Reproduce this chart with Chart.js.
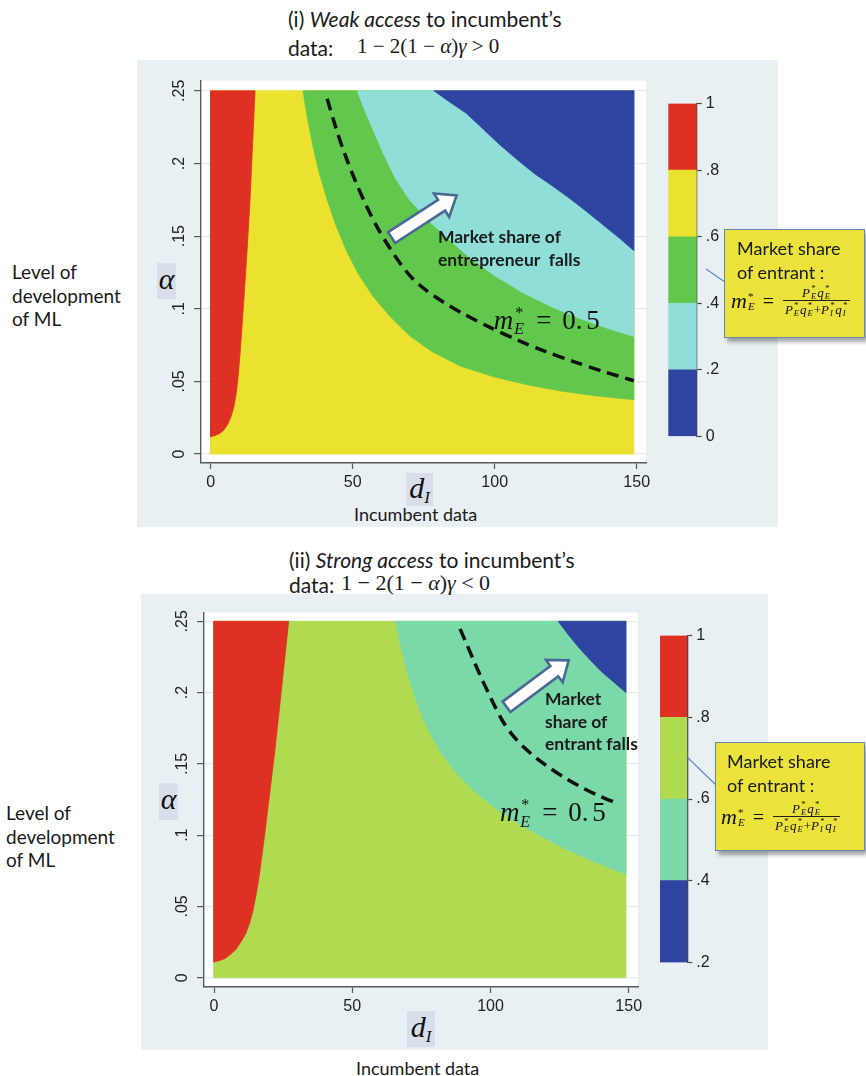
<!DOCTYPE html>
<html>
<head>
<meta charset="utf-8">
<script src="https://cdn.jsdelivr.net/npm/chart.js@4.4.1/dist/chart.umd.min.js"></script>
<style>
  html, body { margin: 0; padding: 0; background: #fff; }
  #page { position: relative; width: 866px; height: 1076px; overflow: hidden;
          font-family: Lato, "Open Sans", sans-serif; color: #1a1a1a; }
  .panel { position: absolute; background: #e9f0f3; }
  .txt { position: absolute; white-space: nowrap; line-height: 1; }
  .ttl { font-size: 21px; }
  .serif { font-family: "Liberation Serif", "DejaVu Serif", serif; }
  .side { position: absolute; font-size: 19px; line-height: 23.5px; }
  .axbox { position: absolute; background: #d8dfea; font-family: "Liberation Serif", serif;
           font-style: italic; color: #111; text-align: center; }
  .callout { position: absolute; background: #ebe23b; border: 1.5px solid #6a86ab;
             box-shadow: 3px 4px 4px rgba(0,0,0,.35); box-sizing: border-box; }
  .callout .lbl { position: absolute; font-size: 18px; line-height: 23.5px; white-space: nowrap; }
  .frm { position: absolute; font-family: "Liberation Serif", serif; white-space: nowrap;
         display: flex; align-items: center; color: #111; }
  .frm .m { font-style: italic; font-size: 22px; }
  .ss { display: inline-flex; flex-direction: column; font-size: 11px; line-height: 0.95;
        vertical-align: middle; margin-left: 1px; }
  .ss i { font-style: italic; }
  .frm .eq { font-size: 20px; margin: 0 9px 0 8px; }
  .frac { display: inline-flex; flex-direction: column; align-items: center; font-size: 13px; }
  .frac span.row { display: inline-flex; align-items: center; font-style: italic; line-height: 1; }
  .frac .den { border-top: 1px solid #222; padding: 1px 2px 0 2px; }
  .frac .sss { display: inline-flex; flex-direction: column; font-size: 8.5px; line-height: 0.9; margin: 0 1px; font-style: italic; }
  canvas { position: absolute; }
  svg { position: absolute; left: 0; top: 0; }
</style>
</head>
<body>
<div id="page">
  <!-- top panel -->
  <div class="panel" style="left:137px;top:60px;width:641px;height:467px"></div>
  <div class="txt ttl" style="left:288px;top:8px">(i) <i>Weak access</i> to incumbent’s</div>
  <div class="txt ttl" style="left:288px;top:37px">data:</div>
  <div class="txt serif" style="left:357px;top:36px;font-size:21px">1 − 2(1 − <i>α</i>)<i>γ</i> &gt; 0</div>
  <div class="side" style="left:12px;top:260px">Level of<br>development<br>of ML</div>
  <div class="axbox" style="left:157px;top:263px;width:19px;height:36px;font-size:30px;line-height:32px">α</div>
  <div class="axbox" style="left:406px;top:473px;width:27px;height:33px;font-size:30px;line-height:30px">d<span style="font-size:17px;vertical-align:-5px">I</span></div>
  <div class="txt" style="left:354px;top:505px;font-size:18px">Incumbent data</div>
  <canvas id="topMain" width="510" height="432" style="left:150px;top:68px"></canvas>
  <canvas id="topBar" width="80" height="360" style="left:660px;top:90px"></canvas>

  <!-- bottom panel -->
  <div class="panel" style="left:141px;top:594px;width:627px;height:456px"></div>
  <div class="txt ttl" style="left:289px;top:549px">(ii) <i>Strong access</i> to incumbent’s</div>
  <div class="txt ttl" style="left:289px;top:574px">data:</div>
  <div class="txt serif" style="left:341px;top:572px;font-size:22px">1 − 2(1 − <i>α</i>)<i>γ</i> &lt; 0</div>
  <div class="side" style="left:6px;top:801px">Level of<br>development<br>of ML</div>
  <div class="axbox" style="left:159px;top:783px;width:19px;height:37px;font-size:30px;line-height:32px">α</div>
  <div class="axbox" style="left:407px;top:1011px;width:28px;height:36px;font-size:30px;line-height:32px">d<span style="font-size:17px;vertical-align:-5px">I</span></div>
  <div class="txt" style="left:356px;top:1059px;font-size:18px">Incumbent data</div>
  <canvas id="botMain" width="500" height="420" style="left:150px;top:600px"></canvas>
  <canvas id="botBar" width="80" height="354" style="left:650px;top:622px"></canvas>

  <svg width="866" height="1076">
    <line x1="706" y1="269" x2="725" y2="282" stroke="#5b86c0" stroke-width="1.2"/>
    <line x1="687" y1="757" x2="716" y2="785" stroke="#5b86c0" stroke-width="1.2"/>
  </svg>
  <div id="callTop" class="callout" style="left:724px;top:229px;width:141px;height:109px"></div>
  <div id="callBot" class="callout" style="left:715px;top:742px;width:150px;height:109px"></div>
</div>

<script>
// ---- axes (shared by both panels)
const xTickVals = [0, 50, 100, 150];
const xTickLabels = ["0", "50", "100", "150"];
const yTickVals = [0, 0.05, 0.1, 0.15, 0.2, 0.25];
const yTickLabels = ["0", ".05", ".1", ".15", ".2", ".25"];
const dMax = 149;      // grid of d_I ends just short of 150
const aMax = 0.25;

// ---- panel (i): contour boundaries of m*_E
const topC80D = [0, 1.5, 3, 4.5, 6, 7.2, 8.2, 9, 9.7, 10.3, 11, 11.8, 12.8, 13.8, 14.7, 15.6];
const topC80A = [0.012, 0.0128, 0.014, 0.0163, 0.0205, 0.026, 0.033, 0.042, 0.054, 0.068, 0.087, 0.11, 0.14, 0.173, 0.211, 0.25];
const topC60D = [32.5, 34, 36, 38, 41, 44, 48, 52, 57, 63, 70, 78, 88, 100, 112, 124, 136, 149];
const topC60A = [0.25, 0.232, 0.212, 0.195, 0.175, 0.158, 0.139, 0.124, 0.109, 0.095, 0.0815, 0.0705, 0.0605, 0.053, 0.0475, 0.0432, 0.04, 0.0375];
const topC40D = [51.6, 54, 57, 61, 65, 70, 76, 83, 91, 100, 110, 120, 130, 140, 149];
const topC40A = [0.25, 0.2377, 0.224, 0.206, 0.19, 0.175, 0.162, 0.1494, 0.1355, 0.1227, 0.111, 0.1014, 0.0933, 0.0864, 0.081];
const topC20D = [78.6, 84, 90, 96, 102, 108, 114, 120, 126, 132, 138, 144, 149];
const topC20A = [0.25, 0.2425, 0.2345, 0.2235, 0.2125, 0.2025, 0.193, 0.185, 0.1765, 0.1675, 0.158, 0.1485, 0.14];
const topC50D = [41, 44, 47, 51, 55, 59, 63, 67, 71, 76, 82, 89, 98, 108, 118, 128, 138, 149];
const topC50A = [0.2445, 0.225, 0.2076, 0.1876, 0.17, 0.1548, 0.142, 0.1305, 0.121, 0.1125, 0.1045, 0.0965, 0.0875, 0.0785, 0.0705, 0.0635, 0.057, 0.0505];
const topArrowD = [63.7, 86.6];
const topArrowA = [0.149, 0.178];
const topNote = ["Market share of", "entrepreneur  falls"];
const topNoteD = 80;
const topNoteA = [0.149, 0.133];
const topMLabel = [99.7, 0.0925];
const topBands = [0, 0.2, 0.4, 0.6, 0.8, 1];
const topBandLabels = ["0", ".2", ".4", ".6", ".8", "1"];
const topBandColors = ["#2f44a0", "#8fdfd8", "#62c74d", "#ebe230", "#de3124"];

// ---- panel (ii)
const botC80D = [0, 2, 4, 6, 8, 10, 11.5, 13, 14.2, 15.3, 16.3, 17.3, 18.5, 20, 22, 24.5, 27];
const botC80A = [0.011, 0.012, 0.0135, 0.0165, 0.02, 0.026, 0.031, 0.039, 0.048, 0.059, 0.071, 0.085, 0.103, 0.127, 0.159, 0.204, 0.25];
const botC60D = [65.6, 67, 69, 71.5, 74.5, 78, 82, 87, 93, 100, 108, 117, 127, 138, 149];
const botC60A = [0.25, 0.237, 0.221, 0.204, 0.187, 0.172, 0.158, 0.145, 0.133, 0.1215, 0.1105, 0.1005, 0.0905, 0.081, 0.0725];
const botC40D = [124.5, 128, 132, 136, 140, 144.5, 149];
const botC40A = [0.25, 0.241, 0.2315, 0.223, 0.215, 0.2075, 0.2];
const botC50D = [89, 91.5, 94, 96.5, 99, 101.5, 104.5, 108, 112, 116.5, 121.5, 127, 133, 139, 146.5];
const botC50A = [0.2447, 0.2335, 0.2222, 0.2112, 0.2007, 0.1907, 0.1797, 0.1702, 0.1618, 0.1542, 0.147, 0.1401, 0.1335, 0.1278, 0.1218];
const botArrowD = [105.8, 128.3];
const botArrowA = [0.19, 0.2226];
const botNote = ["Market", "share of", "entrant falls"];
const botNoteD = 119.7;
const botNoteA = [0.1953, 0.1792, 0.1637];
const botMLabel = [103.4, 0.116];
const botBands = [0.2, 0.4, 0.6, 0.8, 1];
const botBandLabels = [".2", ".4", ".6", ".8", "1"];
const botBandColors = ["#2f44a0", "#7bd8a8", "#b0db50", "#de3124"];

const AXIS = "#555b60";
const TICKFONT = { family: "'Liberation Sans', Arial, sans-serif", size: 16 };
const SERIF = "'Liberation Serif', 'DejaVu Serif', serif";

const pts = (ds, as) => ds.map((d, i) => ({ x: d, y: as[i] }));

// region above/right of a contour that runs from the top edge to the right edge
const upperRight = (ds, as) => [...pts(ds, as), { x: dMax, y: aMax }, { x: ds[0], y: as[0] }];
// region left of a contour that runs from the left edge up to the top edge
const leftOf = (ds, as) => [...pts(ds, as), { x: 0, y: aMax }, { x: ds[0], y: as[0] }];
const box = [{ x: 0, y: 0 }, { x: dMax, y: 0 }, { x: dMax, y: aMax }, { x: 0, y: aMax }, { x: 0, y: 0 }];

function area(data, color, order) {
  return { data, fill: "shape", backgroundColor: color, borderColor: color,
           borderWidth: 0.8, pointRadius: 0, order };
}
function dashed(data) {
  return { data, fill: false, borderColor: "#111", borderWidth: 3.5, borderDash: [12, 7],
           tension: 0.3, pointRadius: 0, order: 0 };
}

// white plot region inside the grey graph region
const plotBg = {
  id: "plotBg",
  beforeDraw(c) {
    const a = c.chartArea;
    c.ctx.save();
    c.ctx.fillStyle = "#fff";
    c.ctx.fillRect(a.left, a.top, a.right - a.left, a.bottom - a.top);
    c.ctx.restore();
  },
};

function blockArrow(ctx, x0, y0, x1, y1) {
  const ang = Math.atan2(y1 - y0, x1 - x0), len = Math.hypot(x1 - x0, y1 - y0);
  const sw = 6.5, hw = 14, hl = 18;
  ctx.save();
  ctx.translate(x0, y0);
  ctx.rotate(ang);
  ctx.beginPath();
  ctx.moveTo(0, -sw); ctx.lineTo(len - hl, -sw); ctx.lineTo(len - hl, -hw);
  ctx.lineTo(len, 0); ctx.lineTo(len - hl, hw); ctx.lineTo(len - hl, sw); ctx.lineTo(0, sw);
  ctx.closePath();
  ctx.fillStyle = "#fff";
  ctx.fill();
  ctx.lineWidth = 2.6;
  ctx.strokeStyle = "#4b6996";
  ctx.stroke();
  ctx.restore();
}

// m*_E = 0.5, left edge at px, vertical centre at py
function mLabel(ctx, px, py, size) {
  const base = py + size * 0.33;
  ctx.save();
  ctx.fillStyle = "#111";
  ctx.textAlign = "left";
  ctx.textBaseline = "alphabetic";
  ctx.font = `italic ${size}px ${SERIF}`;
  let x = px;
  ctx.fillText("m", x, base);
  x += ctx.measureText("m").width + 1;
  ctx.font = `${Math.round(size * 0.6)}px ${SERIF}`;
  ctx.fillText("*", x + 1, base - size * 0.4);
  ctx.font = `italic ${Math.round(size * 0.58)}px ${SERIF}`;
  ctx.fillText("E", x, base + size * 0.2);
  x += ctx.measureText("E").width + size * 0.45;
  ctx.font = `${size}px ${SERIF}`;
  ctx.fillText("=", x, base);
  x += ctx.measureText("=").width + size * 0.4;
  ctx.fillText("0.", x, base);
  x += ctx.measureText("0.").width + size * 0.14;
  ctx.fillText("5", x, base);
  ctx.restore();
}

function notes(spec) {
  return {
    id: "notes",
    afterDatasetsDraw(c) {
      const { x, y } = c.scales;
      const ctx = c.ctx;
      blockArrow(ctx, x.getPixelForValue(spec.arrowD[0]), y.getPixelForValue(spec.arrowA[0]),
                 x.getPixelForValue(spec.arrowD[1]), y.getPixelForValue(spec.arrowA[1]));
      ctx.save();
      ctx.fillStyle = "#1b1b1b";
      ctx.font = "bold 17.5px Lato, 'Open Sans', sans-serif";
      ctx.textAlign = "left";
      ctx.textBaseline = "middle";
      spec.note.forEach((t, i) => ctx.fillText(t, x.getPixelForValue(spec.noteD), y.getPixelForValue(spec.noteA[i])));
      ctx.restore();
      mLabel(ctx, x.getPixelForValue(spec.mLabel[0]), y.getPixelForValue(spec.mLabel[1]), 27);
    },
  };
}

function mainChart(id, spec) {
  return new Chart(document.getElementById(id), {
    type: "line",
    data: { datasets: spec.datasets },
    options: {
      responsive: false, animation: false, events: [], devicePixelRatio: 1,
      layout: { padding: spec.pad },
      plugins: { legend: { display: false }, tooltip: { enabled: false } },
      elements: { line: { tension: 0 }, point: { radius: 0 } },
      scales: {
        x: {
          type: "linear", min: spec.xMin, max: spec.xMax,
          afterBuildTicks: (s) => { s.ticks = xTickVals.map((v) => ({ value: v })); },
          afterFit: (s) => { s.height = spec.xH; },
          ticks: { callback: (v, i) => xTickLabels[i], font: TICKFONT, color: "#222",
                   padding: 4, maxRotation: 0, autoSkip: false },
          grid: { drawOnChartArea: false, tickLength: 6, tickColor: AXIS, tickWidth: 1.2 },
          border: { color: AXIS, width: 1.4 },
        },
        y: {
          type: "linear", min: spec.yMin, max: spec.yMax,
          afterBuildTicks: (s) => { s.ticks = yTickVals.map((v) => ({ value: v })); },
          afterFit: (s) => { s.width = spec.yW; },
          ticks: { callback: (v, i) => yTickLabels[i], font: TICKFONT, color: "#222",
                   minRotation: 90, maxRotation: 90, crossAlign: "center", padding: 3, autoSkip: false },
          grid: { color: "#e4eaee", lineWidth: 1.2, tickLength: 7, tickColor: AXIS, tickWidth: 1.2 },
          border: { color: AXIS, width: 1.4 },
        },
      },
    },
    plugins: [plotBg, notes(spec)],
  });
}

function colorBar(id, edges, labels, colors, pad, yW) {
  return new Chart(document.getElementById(id), {
    type: "bar",
    data: {
      labels: [""],
      datasets: colors.map((col, i) => ({ data: [[edges[i], edges[i + 1]]], backgroundColor: col,
                                          borderWidth: 0, barPercentage: 1, categoryPercentage: 1 })),
    },
    options: {
      responsive: false, animation: false, events: [], devicePixelRatio: 1,
      layout: { padding: pad },
      datasets: { bar: { grouped: false } },
      plugins: { legend: { display: false }, tooltip: { enabled: false } },
      scales: {
        x: { display: false },
        y: {
          position: "right", min: edges[0], max: edges[edges.length - 1],
          afterBuildTicks: (s) => { s.ticks = edges.map((v) => ({ value: v })); },
          afterFit: (s) => { s.width = yW; },
          ticks: { callback: (v, i) => labels[i], font: TICKFONT, color: "#222", padding: 4, autoSkip: false },
          grid: { drawOnChartArea: false, tickLength: 5, tickColor: "#444", tickWidth: 1.2 },
          border: { color: "#444", width: 1.3 },
        },
      },
    },
  });
}

mainChart("topMain", {
  datasets: [
    dashed(pts(topC50D, topC50A)),
    area(leftOf(topC80D, topC80A), topBandColors[4], 5),
    area(upperRight(topC20D, topC20A), topBandColors[0], 6),
    area(upperRight(topC40D, topC40A), topBandColors[1], 7),
    area(upperRight(topC60D, topC60A), topBandColors[2], 8),
    area(box, topBandColors[3], 9),
  ],
  xMin: -3.42, xMax: 153.27, yMin: -0.00613, yMax: 0.25702,
  pad: { top: 9, right: 14, left: 0, bottom: 0 }, yW: 51, xH: 37,
  arrowD: topArrowD, arrowA: topArrowA, note: topNote, noteD: topNoteD, noteA: topNoteA, mLabel: topMLabel,
});

mainChart("botMain", {
  datasets: [
    dashed(pts(botC50D, botC50A)),
    area(leftOf(botC80D, botC80A), botBandColors[3], 5),
    area(upperRight(botC40D, botC40A), botBandColors[0], 6),
    area(upperRight(botC60D, botC60A), botBandColors[1], 7),
    area(box, botBandColors[2], 9),
  ],
  xMin: -3.62, xMax: 153.36, yMin: -0.00651, yMax: 0.2561,
  pad: { top: 12, right: 12, left: 0, bottom: 0 }, yW: 54, xH: 33,
  arrowD: botArrowD, arrowA: botArrowA, note: botNote, noteD: botNoteD, noteA: botNoteA, mLabel: botMLabel,
});

colorBar("topBar", topBands, topBandLabels, topBandColors, { left: 8.3, top: 9.3, bottom: 7.7, right: 0 }, 43.3);
colorBar("botBar", botBands, botBandLabels, botBandColors, { left: 10, top: 10.3, bottom: 10, right: 0 }, 42.7);

// callout boxes: market share of entrant
const ss = (a, b) => `<span class="sss"><span>${a}</span><span>${b}</span></span>`;
function callout(id, textLeft, frmLeft, frmTop) {
  document.getElementById(id).innerHTML =
    `<div class="lbl" style="left:${textLeft}px;top:7px">Market share<br>of entrant :</div>` +
    `<div class="frm" style="left:${frmLeft}px;top:${frmTop}px">` +
      `<span class="m">m</span><span class="ss"><span>*</span><i>E</i></span>` +
      `<span class="eq">=</span>` +
      `<span class="frac">` +
        `<span class="row">P${ss("*", "E")}q${ss("*", "E")}</span>` +
        `<span class="row den">P${ss("*", "E")}q${ss("*", "E")}<span style="font-style:normal">+</span>P${ss("*", "I")}q${ss("*", "I")}</span>` +
      `</span></div>`;
}
callout("callTop", 12, 6, 55);
callout("callBot", 11, 5, 58);
</script>
</body>
</html>
